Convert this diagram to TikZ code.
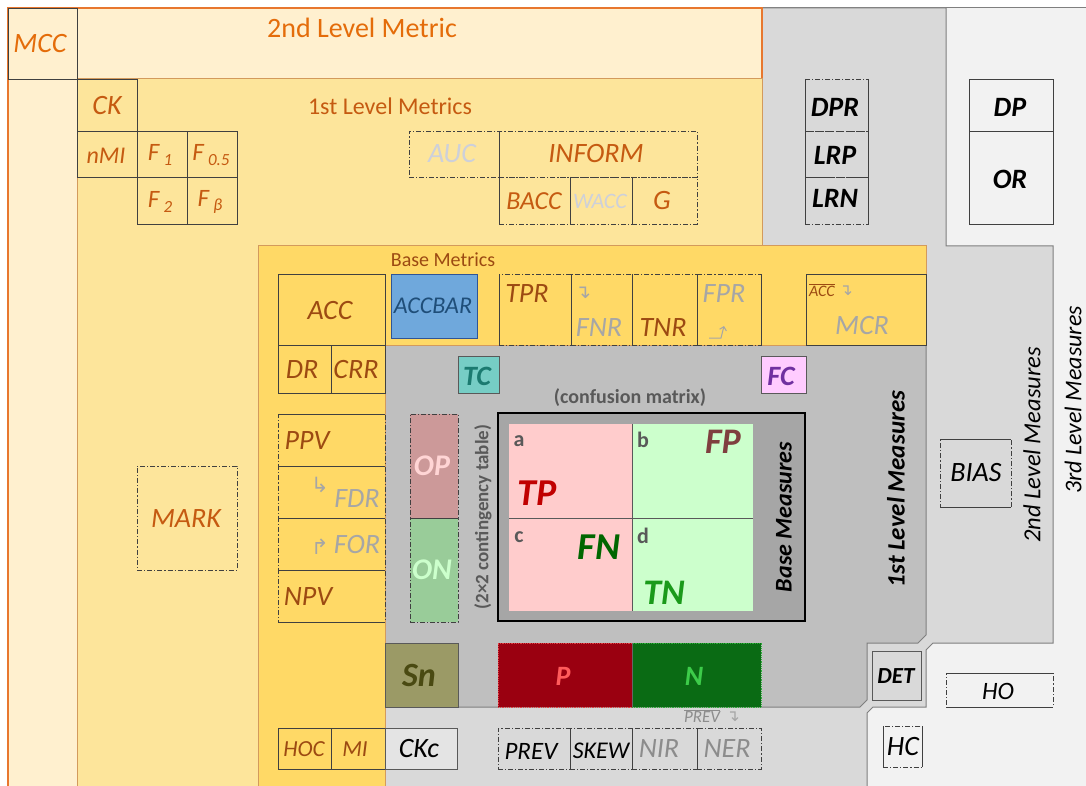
\documentclass[tikz,border=0pt]{standalone}
\usepackage{fontspec}
\setmainfont{Carlito}
\newfontfamily\symfont{DejaVu Sans}
\usetikzlibrary{arrows.meta}
\definecolor{cream}{HTML}{FFF0CF}
\definecolor{lvlone}{HTML}{FDE59B}
\definecolor{basey}{HTML}{FFD966}
\definecolor{gthree}{HTML}{F2F2F2}
\definecolor{gtwo}{HTML}{D9D9D9}
\definecolor{gone}{HTML}{BFBFBF}
\definecolor{gcm}{HTML}{A6A6A6}
\definecolor{orangeline}{HTML}{E8772E}
\definecolor{brline}{HTML}{D39A5C}
\definecolor{regline}{HTML}{7F7F7F}
\definecolor{boxline}{HTML}{404040}
\definecolor{orangetxt}{HTML}{E46C0A}
\definecolor{ortwo}{HTML}{C55A11}
\definecolor{brown}{HTML}{9C4A12}
\definecolor{graytxt}{HTML}{A6A6A6}
\definecolor{lightgraytxt}{HTML}{CDD0DA}
\definecolor{midgray}{HTML}{8C8C8C}
\definecolor{dgray}{HTML}{595959}
\definecolor{barfill}{HTML}{6FA8DC}
\definecolor{barline}{HTML}{2F5597}
\definecolor{bartxt}{HTML}{1F4E79}
\definecolor{tcfill}{HTML}{76CDC5}
\definecolor{tctxt}{HTML}{1B7A70}
\definecolor{fcfill}{HTML}{FFCCFF}
\definecolor{fctxt}{HTML}{7030A0}
\definecolor{opfill}{HTML}{CC9999}
\definecolor{optxt}{HTML}{FFD5D5}
\definecolor{onfill}{HTML}{99CC99}
\definecolor{ontxt}{HTML}{CCFFCC}
\definecolor{pinkc}{HTML}{FFCCCC}
\definecolor{greenc}{HTML}{CCFFCC}
\definecolor{tptxt}{HTML}{C00000}
\definecolor{fptxt}{HTML}{7F3F3F}
\definecolor{fntxt}{HTML}{006600}
\definecolor{tntxt}{HTML}{1A9A1A}
\definecolor{snfill}{HTML}{9B9A66}
\definecolor{sntxt}{HTML}{4A4A12}
\definecolor{pfill}{HTML}{9A0010}
\definecolor{ptxt}{HTML}{FF5B5B}
\definecolor{nfill}{HTML}{0A6B14}
\definecolor{ntxt}{HTML}{3DCC4A}
\newcommand\fsz[1]{\fontsize{#1}{#1}\selectfont}
\newcommand\subs[1]{\,\raisebox{-0.35ex}{\fsz{17}#1}}
\newcommand\cell[6]{\node[#6,anchor=north west,inner sep=0pt,outer sep=0pt,minimum width={(#4-#2)*1pt},minimum height={(#5-#3)*1pt}] (#1) at (#2,#3) {};}
\tikzset{
  sbox/.style={draw=boxline, line width=0.8pt},
  dbox/.style={draw=boxline, line width=0.8pt, dash pattern=on 5pt off 2pt on 1.2pt off 2pt},
  sline/.style={draw=boxline, line width=0.8pt},
  lb/.style={inner sep=0pt, font={\fsz{28}\itshape}},
  bl/.style={inner sep=0pt, font={\fsz{28}\bfseries\itshape}},
  sym/.style={inner sep=0pt, text=graytxt, font={\symfont\fsz{19}}},
}
\begin{document}
\begin{tikzpicture}[x=1pt,y=-1pt]
\useasboundingbox (0,0) rectangle (1086,786);
\fill[white] (0,0) rectangle (1086,786);
% ---- measure regions
\fill[gthree] (762,8) rectangle (1090,790);
\draw[regline, line width=1pt] (762,8) -- (1090,8);
\filldraw[fill=gtwo, draw=regline, line width=1pt] (762,8) -- (946,8) -- (946,246) -- (1053,246) -- (1053,643) -- (933,643) -- (926,650) -- (926,707) -- (873,707) -- (867,713) -- (867,790) -- (385,790) -- (385,246) -- (762,246) -- cycle;
\filldraw[fill=gone, draw=regline, line width=1pt] (385,345) -- (926,345) -- (926,635) -- (918,643) -- (867,643) -- (867,700) -- (860,707) -- (385,707) -- cycle;
% ---- metric regions
\filldraw[fill=cream, draw=orangeline, line width=1.2pt] (8,792) -- (8,8) -- (762,8) -- (762,246) -- (258,246) -- (258,792);
\filldraw[fill=lvlone, draw=brline, line width=1pt] (77,792) -- (77,79) -- (762,79) -- (762,246) -- (258,246) -- (258,792);
\filldraw[fill=basey, draw=brline, line width=1pt] (258,246) -- (926,246) -- (926,345) -- (385,345) -- (385,792) -- (258,792) -- cycle;

% ---- region titles
\node[inner sep=0pt, text=orangetxt, font={\fsz{28}}] (t2m) at (362,28) {2nd Level Metric};
\node[inner sep=0pt, text=ortwo, font={\fsz{24}}] (t1m) at (390,106) {1st Level Metrics};
\node[inner sep=0pt, text=brown, font={\fsz{20}}] (tbm) at (443,260) {Base Metrics};
\node[bl, rotate=90, font={\fsz{25}\bfseries\itshape}] (t1me) at (896,489) {1st Level Measures};
\node[lb, rotate=90, font={\fsz{24.5}\itshape}] (t2me) at (1032,445) {2nd Level Measures};
\node[lb, rotate=90, font={\fsz{24}\itshape}] (t3me) at (1073,400) {3rd Level Measures};

% ---- MCC, CK, F scores
\cell{mcc}{8}{8}{77}{79}{sbox}
\node[lb, text=orangetxt] (mcct) at (40,44) {MCC};
\cell{ck}{77}{79}{137}{131}{sbox}
\node[lb, text=ortwo] (ckt) at (107,106) {CK};
\cell{nmi}{77}{131}{137}{177}{sbox}
\node[lb, text=ortwo, font={\fsz{24}\itshape}] (nmit) at (106,156) {nMI};
\cell{fone}{137}{131}{187}{177}{sbox}
\cell{fhalf}{187}{131}{237}{177}{sbox}
\cell{ftwo}{137}{177}{187}{224}{sbox}
\cell{fbeta}{187}{177}{237}{224}{sbox}
\node[lb, text=ortwo, font={\fsz{25}\itshape}] (fonet) at (160,155) {F\subs{1}};
\node[lb, text=ortwo, font={\fsz{25}\itshape}] (fhalft) at (211,155) {F\subs{0.5}};
\node[lb, text=ortwo, font={\fsz{25}\itshape}] (ftwot) at (160,202) {F\subs{2}};
\node[lb, text=ortwo, font={\fsz{25}\itshape}] (fbetat) at (210,202) {F\subs{β}};

% ---- AUC / INFORM group
\cell{auc}{409}{131}{499}{177}{dbox}
\cell{inform}{499}{131}{697}{177}{dbox}
\cell{bacc}{499}{177}{570}{224}{dbox}
\cell{wacc}{570}{177}{632}{224}{dbox}
\cell{g}{632}{177}{697}{224}{dbox}
\draw[sline] (inform.north west) -- (bacc.south west);
\draw[sline] (wacc.north west) -- (wacc.south west);
\draw[sline] (wacc.north east) -- (wacc.south east);
\node[lb, text=lightgraytxt] (auct) at (452,154) {AUC};
\node[lb, text=ortwo] (informt) at (596,154) {INFORM};
\node[lb, text=ortwo, font={\fsz{26}\itshape}] (bacct) at (534,201) {BACC};
\node[lb, text=lightgraytxt, font={\fsz{22}\itshape}] (wacct) at (600,201) {WACC};
\node[lb, text=ortwo] (gt) at (662,201) {G};

% ---- DPR / LRP / LRN and DP / OR
\cell{dpr}{805}{79}{868}{131}{dbox}
\cell{lrp}{805}{131}{868}{177}{dbox}
\cell{lrn}{805}{177}{868}{224}{dbox}
\draw[sline] (dpr.north west) -- (lrn.south west);
\draw[sline] (dpr.north east) -- (lrn.south east);
\node[bl] (dprt) at (835,107) {DPR};
\node[bl] (lrpt) at (835,155) {LRP};
\node[bl] (lrnt) at (835,198) {LRN};
\cell{dp}{969}{79}{1053}{131}{sbox}
\cell{or}{969}{131}{1053}{224}{sbox}
\node[bl] (dpt) at (1010,107) {DP};
\node[bl] (ort) at (1010,179) {OR};

% ---- base metrics row
\cell{acc}{278}{274}{385}{345}{sbox}
\node[lb, text=brown] (acct) at (330,311) {ACC};
\cell{dr}{278}{345}{331}{393}{sbox}
\cell{crr}{331}{345}{385}{393}{sbox}
\node[lb, text=brown] (drt) at (302,370) {DR};
\node[lb, text=brown] (crrt) at (356,370) {CRR};
\cell{accbar}{391}{274}{477}{338}{draw=barline, line width=0.8pt, fill=barfill}
\node[lb, text=bartxt, font={\fsz{24}\itshape}] (accbart) at (433,306) {ACCBAR};
\cell{tpr}{499}{274}{571}{345}{dbox}
\cell{fnr}{571}{274}{632}{345}{dbox}
\cell{tnr}{632}{274}{697}{345}{dbox}
\cell{fpr}{697}{274}{761}{345}{dbox}
\draw[sline] (tpr.north west) -- (tpr.south west);
\draw[sline] (fnr.north west) -- (fnr.south west);
\draw[sline] (tnr.north west) -- (tnr.south west);
\draw[sline] (fpr.north west) -- (fpr.south west);
\draw[sline] (fpr.north east) -- (fpr.south east);
\node[lb, text=brown] (tprt) at (527,294) {TPR};
\node[sym] (fnra) at (583,293) {↴};
\node[lb, text=graytxt] (fnrt) at (599,328) {FNR};
\node[lb, text=brown] (tnrt) at (663,328) {TNR};
\node[lb, text=graytxt] (fprt) at (724,294) {FPR};
\coordinate (fpra) at (709,338);
\coordinate (fprb) at (721,338);
\coordinate (fprc) at (724,326);
\draw[graytxt, line width=1pt, -{Straight Barb[length=3.5pt]}] (fpra) -- (fprb) -- (fprc);
\cell{mcr}{806}{274}{926}{345}{sbox}
\node[lb, text=brown, font={\fsz{16}\itshape}] (accbarl) at (822,290) {$\overline{\mbox{ACC}}$};
\node[sym, font={\symfont\fsz{16}}] (mcra) at (846,291) {↴};
\node[lb, text=graytxt] (mcrt) at (862,326) {MCR};

% ---- TC / FC
\cell{tc}{458}{356}{499}{393}{draw=dgray, line width=0.8pt, fill=tcfill}
\node[bl, text=tctxt] (tct) at (477,376) {TC};
\cell{fc}{761}{356}{806}{393}{draw=dgray, line width=0.8pt, fill=fcfill}
\node[bl, text=fctxt] (fct) at (781,376) {FC};

% ---- PPV group
\cell{ppv}{278}{414}{385}{466}{dbox}
\cell{fdr}{278}{466}{385}{518}{dbox}
\cell{for}{278}{518}{385}{570}{dbox}
\cell{npv}{278}{570}{385}{622}{dbox}
\draw[sline] (ppv.north west) -- (ppv.north east);
\draw[sline] (fdr.north west) -- (fdr.north east);
\draw[sline] (for.north west) -- (for.north east);
\draw[sline] (npv.north west) -- (npv.north east);
\draw[sline] (npv.south west) -- (npv.south east);
\node[lb, text=brown] (ppvt) at (307,441) {PPV};
\node[sym, font={\symfont\fsz{21}}] (fdra) at (320,485) {↳};
\node[lb, text=graytxt] (fdrt) at (357,499) {FDR};
\node[sym, font={\symfont\fsz{21}}] (fora) at (320,547) {↱};
\node[lb, text=graytxt] (fort) at (357,545) {FOR};
\node[lb, text=brown] (npvt) at (308,597) {NPV};

% ---- OP / ON
\cell{op}{410}{414}{458}{518}{dbox, fill=opfill}
\cell{on}{410}{518}{458}{622}{dbox, fill=onfill}
\draw[sline] (on.north west) -- (on.north east);
\node[bl, text=optxt, font={\fsz{30}\bfseries\itshape}] (opt) at (432,466) {OP};
\node[bl, text=ontxt, font={\fsz{30}\bfseries\itshape}] (ont) at (432,570) {ON};
\node[inner sep=0pt, rotate=90, text=dgray, font={\fsz{19}\bfseries}] (ctab) at (483,517) {(2×2 contingency table)};

% ---- confusion matrix
\node[inner sep=0pt, text=dgray, font={\fsz{20}\bfseries}] (cmt) at (630,398) {(confusion matrix)};
\cell{cm}{498}{413}{805}{621}{draw=black, line width=2pt, fill=gcm}
\cell{tp}{509}{424}{632}{518}{fill=pinkc}
\cell{fp}{632}{424}{753}{518}{fill=greenc}
\cell{fn}{509}{518}{632}{611}{fill=pinkc}
\cell{tn}{632}{518}{753}{611}{fill=greenc}
\draw[dgray, line width=0.9pt] (tp.north east) -- (fn.south east);
\draw[dgray, line width=0.9pt] (tp.south west) -- (fp.south east);
\node[inner sep=0pt, text=dgray, font={\fsz{22}\bfseries}] (ca) at (519,441) {a};
\node[inner sep=0pt, text=dgray, font={\fsz{22}\bfseries}] (cb) at (643,440) {b};
\node[inner sep=0pt, text=dgray, font={\fsz{22}\bfseries}] (cc) at (519,537) {c};
\node[inner sep=0pt, text=dgray, font={\fsz{22}\bfseries}] (cd) at (643,536) {d};
\node[bl, text=tptxt, font={\fsz{38}\bfseries\itshape}] (tpt) at (537,493) {TP};
\node[bl, text=fptxt, font={\fsz{36}\bfseries\itshape}] (fpt) at (723,442) {FP};
\node[bl, text=fntxt, font={\fsz{38}\bfseries\itshape}] (fnt) at (599,547) {FN};
\node[bl, text=tntxt, font={\fsz{36}\bfseries\itshape}] (tnt) at (664,593) {TN};
\node[bl, rotate=90, font={\fsz{24}\bfseries\itshape}] (bmt) at (784,517) {Base Measures};

% ---- MARK, BIAS
\cell{mark}{137}{466}{237}{570}{dbox}
\node[lb, text=ortwo] (markt) at (186,519) {MARK};
\cell{bias}{940}{439}{1011}{507}{dbox}
\draw[sline] (bias.north west) -- (bias.north east);
\draw[sline] (bias.south west) -- (bias.south east);
\node[lb] (biast) at (976,473) {BIAS};

% ---- Sn, P, N
\cell{sn}{385}{643}{458}{707}{draw=dgray, line width=0.8pt, fill=snfill}
\node[bl, text=sntxt, font={\fsz{34}\bfseries\itshape}] (snt) at (419,675) {Sn};
\cell{p}{498}{643}{632}{707}{fill=pfill, draw=ptxt!70!pfill, line width=0.8pt, densely dotted}
\cell{n}{632}{643}{761}{707}{fill=nfill, draw=ntxt!70!nfill, line width=0.8pt, densely dotted}
\draw[black!60, line width=0.6pt] (p.north east) -- (p.south east);
\node[bl, text=ptxt] (pt) at (563,676) {P};
\node[bl, text=ntxt] (nt) at (694,676) {N};

% ---- bottom row
\cell{hoc}{278}{728}{331}{769}{sbox}
\cell{mi}{331}{728}{385}{769}{sbox}
\node[lb, text=brown, font={\fsz{23}\itshape}] (hoct) at (304,749) {HOC};
\node[lb, text=brown, font={\fsz{23}\itshape}] (mit) at (355,749) {MI};
\cell{ckc}{385}{728}{457}{769}{draw=dgray, line width=0.8pt, fill=gtwo!70!white}
\node[lb] (ckct) at (419,749) {CKc};
\cell{prev}{498}{728}{570}{769}{dbox}
\cell{skew}{570}{728}{632}{769}{dbox}
\cell{nir}{632}{728}{697}{769}{dbox}
\cell{ner}{697}{728}{761}{769}{dbox}
\draw[sline] (skew.north west) -- (skew.south west);
\draw[sline] (skew.north east) -- (skew.south east);
\draw[sline] (ner.north west) -- (ner.south west);
\node[lb, font={\fsz{25}\itshape}] (prevt) at (531,751) {PREV};
\node[lb, font={\fsz{24}\itshape}] (skewt) at (601,751) {SKEW};
\node[lb, text=midgray] (nirt) at (659,749) {NIR};
\node[lb, text=midgray] (nert) at (727,749) {NER};
\node[lb, text=midgray, font={\fsz{17}\itshape}] (prevbar) at (702,716) {$\overline{\mbox{PREV}}$};
\node[sym, font={\symfont\fsz{16}}] (nera) at (733,717) {↴};

% ---- DET, HO, HC
\cell{det}{872}{651}{921}{700}{draw=dgray, line width=0.8pt, fill=gtwo}
\node[bl, font={\fsz{23}\bfseries\itshape}] (dett) at (896,676) {DET};
\cell{ho}{946}{673}{1053}{707}{dbox}
\draw[sline] (ho.north west) -- (ho.north east);
\draw[sline] (ho.south west) -- (ho.south east);
\node[lb, font={\fsz{25}\itshape}] (hot) at (998,691) {HO};
\cell{hc}{883}{726}{922}{767}{dbox}
\draw[sline] (hc.north west) -- (hc.south west);
\draw[sline] (hc.north east) -- (hc.south east);
\node[lb] (hct) at (903,747) {HC};
\end{tikzpicture}
\end{document}
